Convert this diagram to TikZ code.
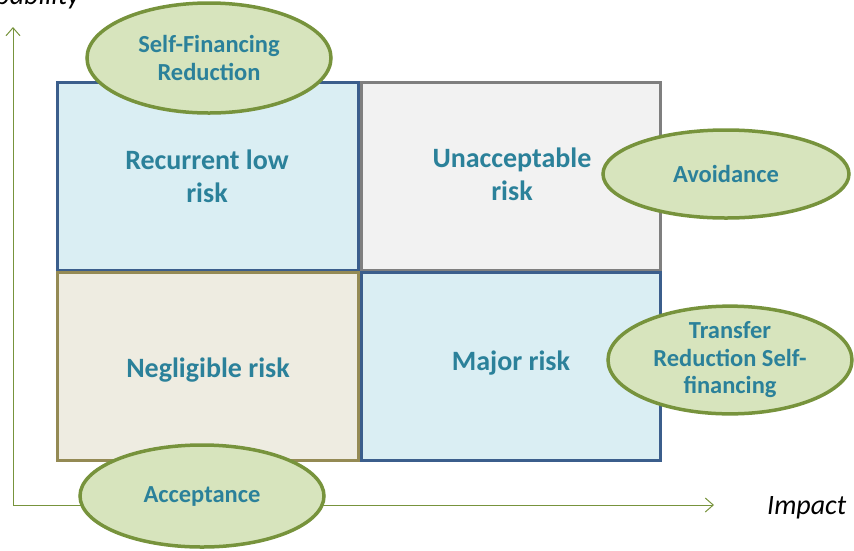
\documentclass[tikz,border=0pt]{standalone}
\usepackage{fontspec}
\setmainfont{Carlito}
\usetikzlibrary{shapes.geometric,arrows.meta}
\definecolor{bluefill}{HTML}{DAEEF3}
\definecolor{blueedge}{HTML}{3B5E8C}
\definecolor{grayfill}{HTML}{F2F2F2}
\definecolor{grayedge}{HTML}{7F7F7F}
\definecolor{olivefill}{HTML}{EEECE1}
\definecolor{oliveedge}{HTML}{948A54}
\definecolor{ellfill}{HTML}{D7E4BD}
\definecolor{elledge}{HTML}{77933C}
\definecolor{txt}{HTML}{2B819A}
\tikzset{
  cell/.style={line width=3pt},
  celltext/.style={text=txt, font=\bfseries\fontsize{28}{33}\selectfont, align=center},
  oval/.style={ellipse, draw=elledge, fill=ellfill, line width=3.5pt, inner sep=0pt,
     text=txt, font=\bfseries\fontsize{24.5}{27.5}\selectfont, align=center},
  axis/.style={draw=elledge, line width=1pt, -{Straight Barb[length=8pt,width=14pt,line width=1pt]}},
  axlabel/.style={font=\itshape\fontsize{28}{33}\selectfont, text=black, inner sep=0pt}
}
\begin{document}
\begin{tikzpicture}[x=1pt,y=-1pt]
\useasboundingbox (0,0) rectangle (854,550);
% cells
\draw[cell, draw=blueedge, fill=bluefill] (57,82) rectangle (358,270);
\draw[cell, draw=grayedge, fill=grayfill] (361,82) rectangle (660,270);
\draw[cell, draw=oliveedge, fill=olivefill] (57,272) rectangle (358,460);
\draw[cell, draw=blueedge, fill=bluefill] (361,272) rectangle (660,460);
\node[celltext] (rec) at (207,176) {Recurrent low\\risk};
\node[celltext] (una) at (512,174) {Unacceptable\\risk};
\node[celltext] (neg) at (208,370) {Negligible risk};
\node[celltext] (maj) at (511,363) {Major risk};
% axes
\coordinate (o) at (13,505);
\coordinate (ytop) at (13,27);
\coordinate (xend) at (714,505);
\draw[axis] (o) -- (ytop);
\draw[axis] (o) -- (xend);
\node[axlabel, anchor=base west] (imp) at (767,514) {Impact};
\node[axlabel, anchor=base east] (prob) at (80,4) {Probability};
% ovals
\node[oval, minimum width=244pt, minimum height=110pt] (sfr) at (209,58) {Self-Financing\\Reduction};
\node[oval, minimum width=246pt, minimum height=88pt] (avo) at (726,174) {Avoidance};
\node[oval, minimum width=244pt, minimum height=104pt] (tra) at (730,360) {Transfer\\Reduction Self-\\financing};
\node[oval, minimum width=244pt, minimum height=102pt] (acc) at (202,496) {Acceptance};
\end{tikzpicture}
\end{document}
